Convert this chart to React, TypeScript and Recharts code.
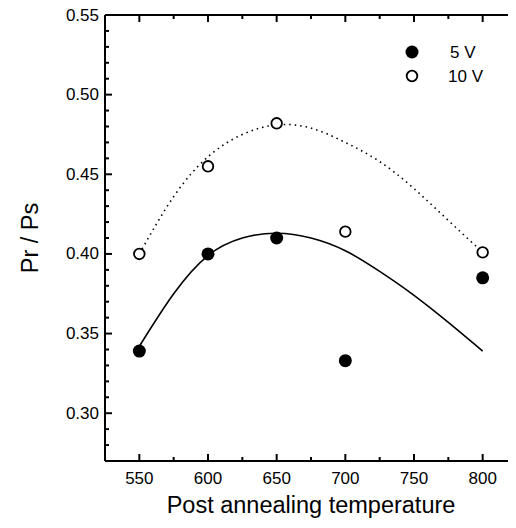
import { ComposedChart, XAxis, YAxis, Line, Scatter, Label } from "recharts"

// measured points
const temps = [550, 600, 650, 700, 800]
const ratio5V = [0.339, 0.4, 0.41, 0.333, 0.385]
const ratio10V = [0.4, 0.455, 0.482, 0.414, 0.401]

// fitted curves
const fitTemps = [550, 575, 600, 625, 650, 675, 700, 725, 750, 775, 800]
const fit5V = [0.342, 0.375, 0.399, 0.41, 0.413, 0.41, 0.402, 0.389, 0.374, 0.357, 0.339]
const fit10V = [0.4, 0.436, 0.461, 0.475, 0.481, 0.479, 0.47, 0.458, 0.441, 0.421, 0.401]

const xTicks = [550, 575, 600, 625, 650, 675, 700, 725, 750, 775, 800]
const yTicks = [
  0.28, 0.29, 0.3, 0.31, 0.32, 0.33, 0.34, 0.35, 0.36, 0.37, 0.38, 0.39, 0.4, 0.41,
  0.42, 0.43, 0.44, 0.45, 0.46, 0.47, 0.48, 0.49, 0.5, 0.51, 0.52, 0.53, 0.54, 0.55,
]

const FONT = "'Liberation Sans', Arial, Helvetica, sans-serif"

const points5V = temps.map((x, i) => ({ x, y: ratio5V[i] }))
const points10V = temps.map((x, i) => ({ x, y: ratio10V[i] }))
const curve5V = fitTemps.map((x, i) => ({ x, y: fit5V[i] }))
const curve10V = fitTemps.map((x, i) => ({ x, y: fit10V[i] }))

const isMajorX = (v: number) => v % 50 === 0
const isMajorY = (v: number) => Math.round(v * 100) % 5 === 0

const MAJOR = 7
const MINOR = 4
const TICK_W = 2

// ticks point inward, so each axis draws its own tick marks
const BottomTick = (props: any) => {
  const x = Number(props.x)
  const y = Number(props.y)
  const major = isMajorX(props.payload.value)
  return (
    <g>
      <line x1={x} y1={y} x2={x} y2={y - (major ? MAJOR : MINOR)} stroke="#000" strokeWidth={TICK_W} />
      {major && (
        <text x={x} y={y + 17} textAnchor="middle" dominantBaseline="central" fontSize={17} fontFamily={FONT} fill="#000">
          {props.payload.value}
        </text>
      )}
    </g>
  )
}

const TopTick = (props: any) => {
  const x = Number(props.x)
  const y = Number(props.y)
  return <line x1={x} y1={y} x2={x} y2={y + (isMajorX(props.payload.value) ? MAJOR : MINOR)} stroke="#000" strokeWidth={TICK_W} />
}

const LeftTick = (props: any) => {
  const x = Number(props.x)
  const y = Number(props.y)
  const major = isMajorY(props.payload.value)
  return (
    <g>
      <line x1={x} y1={y} x2={x + (major ? MAJOR : MINOR)} y2={y} stroke="#000" strokeWidth={TICK_W} />
      {major && (
        <text x={x - 6} y={y} textAnchor="end" dominantBaseline="central" fontSize={17} fontFamily={FONT} fill="#000">
          {props.payload.value.toFixed(2)}
        </text>
      )}
    </g>
  )
}

const RightTick = (props: any) => {
  const x = Number(props.x)
  const y = Number(props.y)
  return <line x1={x} y1={y} x2={x - (isMajorY(props.payload.value) ? MAJOR : MINOR)} y2={y} stroke="#000" strokeWidth={TICK_W} />
}

const FilledDot = ({ cx, cy }: any) => <circle cx={cx} cy={cy} r={6.5} fill="#000" />
const OpenDot = ({ cx, cy }: any) => <circle cx={cx} cy={cy} r={5.3} fill="#fff" stroke="#000" strokeWidth={1.8} />

const legendItems = [
  { name: "5 V", filled: true, textX: 450 },
  { name: "10 V", filled: false, textX: 448 },
]

const axisLine = { stroke: "#000", strokeWidth: 2 }

export default function App() {
  return (
    <div style={{ position: "relative", width: 516, height: 528, overflow: "hidden", margin: "-8px 0 -8px -8px" }}>
      <ComposedChart width={540} height={528} margin={{ top: 14, right: 0, bottom: 0, left: 0 }}>
        <XAxis
          dataKey="x"
          type="number"
          domain={[525, 825]}
          ticks={xTicks}
          interval={0}
          allowDataOverflow
          height={67}
          stroke="#000"
          tickSize={0}
          tickMargin={0}
          tickLine={false}
          tick={<BottomTick />}
          axisLine={axisLine}
        >
          <Label
            content={({ viewBox }: any) => (
              <text x={viewBox.x + viewBox.width / 2} y={viewBox.y + 52} textAnchor="middle" fontSize={23.5} fontFamily={FONT} fill="#000">
                Post annealing temperature
              </text>
            )}
          />
        </XAxis>
        <XAxis
          xAxisId="top"
          orientation="top"
          dataKey="x"
          type="number"
          domain={[525, 825]}
          ticks={xTicks}
          interval={0}
          allowDataOverflow
          height={1}
          stroke="#000"
          tickSize={0}
          tickMargin={0}
          tickLine={false}
          tick={<TopTick />}
          axisLine={axisLine}
        />
        <YAxis
          type="number"
          domain={[0.27, 0.55]}
          ticks={yTicks}
          interval={0}
          allowDataOverflow
          width={105}
          stroke="#000"
          tickSize={0}
          tickMargin={0}
          tickLine={false}
          tick={<LeftTick />}
          axisLine={axisLine}
        >
          <Label
            content={({ viewBox }: any) => {
              const cx = 30
              const cy = viewBox.y + viewBox.height / 2
              return (
                <text x={cx} y={cy} transform={`rotate(-90 ${cx} ${cy})`} textAnchor="middle" dominantBaseline="central" fontSize={23.5} fontFamily={FONT} fill="#000">
                  Pr / Ps
                </text>
              )
            }}
          />
        </YAxis>
        <YAxis
          yAxisId="right"
          orientation="right"
          type="number"
          domain={[0.27, 0.55]}
          ticks={yTicks}
          interval={0}
          allowDataOverflow
          width={23}
          stroke="#000"
          tickSize={0}
          tickMargin={0}
          tickLine={false}
          tick={<RightTick />}
          axisLine={axisLine}
        />
        <Line data={curve5V} dataKey="y" type="natural" stroke="#000" strokeWidth={1.6} dot={false} isAnimationActive={false} />
        <Line data={curve10V} dataKey="y" type="natural" stroke="#000" strokeWidth={1.6} strokeDasharray="1.5 4" dot={false} isAnimationActive={false} />
        <Scatter data={points5V} dataKey="y" shape={<FilledDot />} isAnimationActive={false} />
        {/* same domains, so the 10 V points also carry the top/right frame axes */}
        <Scatter data={points10V} dataKey="y" xAxisId="top" yAxisId="right" shape={<OpenDot />} isAnimationActive={false} />
      </ComposedChart>
      <svg width={516} height={528} style={{ position: "absolute", left: 0, top: 0, pointerEvents: "none" }}>
        {legendItems.map((item, i) => {
          const cy = 52 + i * 24
          return (
            <g key={item.name}>
              {item.filled ? (
                <circle cx={412} cy={cy} r={6.5} fill="#000" />
              ) : (
                <circle cx={412} cy={cy} r={5.3} fill="#fff" stroke="#000" strokeWidth={1.8} />
              )}
              <text x={item.textX} y={cy} dominantBaseline="central" fontSize={17} fontFamily={FONT} fill="#000">
                {item.name}
              </text>
            </g>
          )
        })}
      </svg>
    </div>
  )
}
